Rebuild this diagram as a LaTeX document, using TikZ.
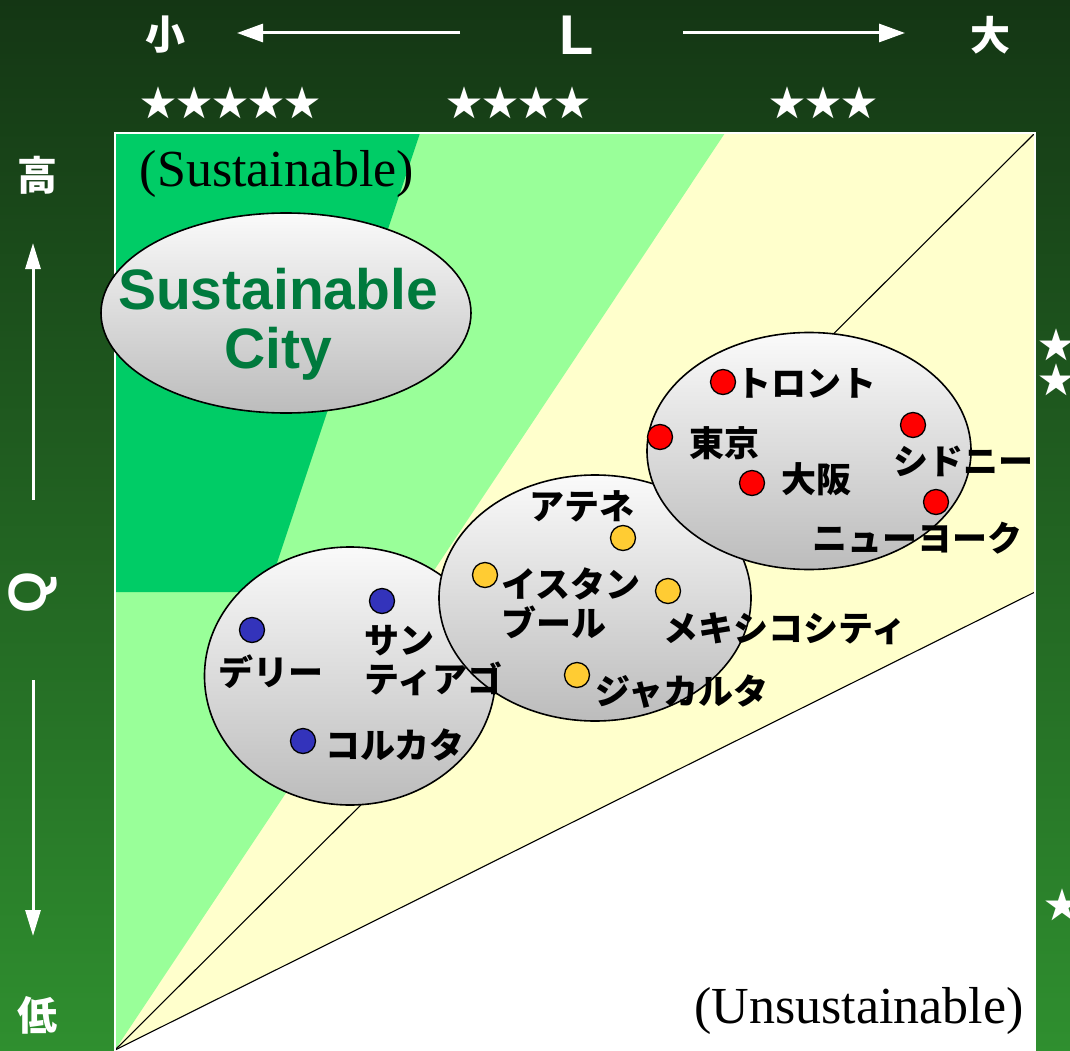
\documentclass[tikz,border=0pt]{standalone}
\usepackage{fontspec}
\usetikzlibrary{shapes.geometric,arrows.meta}
\setmainfont{Liberation Serif}
\newfontfamily\jp{Noto Sans CJK JP}
\newfontfamily\arialf{Liberation Sans}
\definecolor{bgtop}{RGB}{20,54,20}
\definecolor{bgbot}{RGB}{47,143,47}
\definecolor{dgreen}{RGB}{0,204,102}
\definecolor{lgreen}{RGB}{153,255,153}
\definecolor{yel}{RGB}{255,255,204}
\definecolor{scgreen}{RGB}{0,122,61}
\definecolor{dotred}{RGB}{255,0,0}
\definecolor{dotyel}{RGB}{255,204,51}
\definecolor{dotblue}{RGB}{51,51,187}
\definecolor{elltop}{RGB}{250,250,250}
\definecolor{ellbot}{RGB}{188,188,188}
\tikzset{
  lbl/.style={font=\jp\bfseries\fontsize{35}{39}\selectfont, inner sep=0pt, align=left, text=black},
  citydot/.style={circle, draw=black, line width=1.3pt, minimum size=25pt, inner sep=0pt},
  cityell/.style={ellipse, draw=black, line width=1.6pt, top color=elltop, bottom color=ellbot, inner sep=0pt},
  wjp/.style={font=\jp\bfseries\fontsize{40}{40}\selectfont, text=white, inner sep=0pt},
  wstar/.style={font=\jp\fontsize{36}{36}\selectfont, text=white, inner sep=0pt},
  axarrow/.style={draw=white, line width=3pt, -{Triangle[length=26pt,width=18pt]}},
  zone/.style={draw=black, line width=1.1pt},
  serif/.style={font=\fontsize{52}{52}\selectfont, inner sep=0pt, text=black}
}
\begin{document}
\begin{tikzpicture}[x=1pt,y=-1pt]
\useasboundingbox (0,0) rectangle (1070,1051);
\clip (0,0) rectangle (1070,1051);
\shade[top color=bgtop, bottom color=bgbot] (0,0) rectangle (1070,1051);

% zones
\fill[yel] (115,133) rectangle (1035,1051);
\fill[white] (115,1050) -- (1035,592) -- (1035,1051) -- (115,1051) -- cycle;
\fill[lgreen] (115,133) -- (725,133) -- (115,1050) -- cycle;
\fill[dgreen] (115,133) -- (420,133) -- (267.3,592) -- (115,592) -- cycle;
\coordinate (origin) at (115,1050);
\coordinate (topright) at (1035,133);
\coordinate (rightmid) at (1035,592);
\draw[zone] (origin) -- (topright);
\draw[zone] (origin) -- (rightmid);
\draw[white, line width=2pt] (115,133) rectangle (1035,1052);

\node[serif] (sust) at (277,174) {(Sustainable)};
\node[serif] (unsust) at (859,1011) {(Unsustainable)};

% top axis
\node[wjp] (small) at (165,35) {小};
\node[wjp] (large) at (990,35) {大};
\node[font=\arialf\bfseries\fontsize{56}{56}\selectfont, text=white, inner sep=0pt] (L) at (577,35) {L};
\coordinate (la0) at (460,33); \coordinate (la1) at (237,33);
\coordinate (ra0) at (683,33); \coordinate (ra1) at (905,33);
\draw[axarrow] (la0) -- (la1);
\draw[axarrow] (ra0) -- (ra1);
\node[wstar] (s5) at (230,103) {★★★★★};
\node[wstar] (s4) at (518,103) {★★★★};
\node[wstar] (s3) at (823,103) {★★★};

% left axis
\node[wjp] (high) at (37,175) {高};
\node[wjp] (low) at (37,1015) {低};
\node[font=\arialf\bfseries\fontsize{54}{54}\selectfont, text=white, inner sep=0pt, rotate=90] (Q) at (33,592) {Q};
\coordinate (ua0) at (33,500); \coordinate (ua1) at (33,243);
\coordinate (da0) at (33,680); \coordinate (da1) at (33,936);
\draw[axarrow, -{Triangle[length=26pt,width=15pt]}] (ua0) -- (ua1);
\draw[axarrow, -{Triangle[length=26pt,width=15pt]}] (da0) -- (da1);

% right edge stars (cut by the picture edge, as in the reference)
\node[wstar] (rs1) at (1056,345) {★};
\node[wstar] (rs2) at (1056,380) {★};
\node[wstar] (rs3) at (1062,905) {★};

% ellipses
\node[cityell, minimum width=370pt, minimum height=200pt] (scity) at (286,313) {};
\node[font=\arialf\bfseries\fontsize{57}{59}\selectfont, text=scgreen, align=center, inner sep=0pt, anchor=base] (sclabel) at (278,368) {Sustainable\\City};
\node[cityell, minimum width=291pt, minimum height=258pt] (blueg) at (350,676) {};
\node[cityell, minimum width=312pt, minimum height=246pt] (yelg) at (595,598) {};
\node[cityell, minimum width=324pt, minimum height=237pt] (redg) at (809,451) {};

% red group
\node[citydot, fill=dotred] (toronto) at (723,382) {};
\node[citydot, fill=dotred] (tokyo) at (660,437) {};
\node[citydot, fill=dotred] (osaka) at (752,483) {};
\node[citydot, fill=dotred] (sydney) at (913,425) {};
\node[citydot, fill=dotred] (newyork) at (936,502) {};
\node[lbl] (ltoronto) at (806,383) {トロント};
\node[lbl] (ltokyo) at (724,443) {東京};
\node[lbl] (losaka) at (816,479) {大阪};
\node[lbl] (lsydney) at (963,461) {シドニー};
\node[lbl] (lnewyork) at (917,538) {ニューヨーク};

% yellow group
\node[citydot, fill=dotyel] (athens) at (623,538) {};
\node[citydot, fill=dotyel] (istanbul) at (485,575) {};
\node[citydot, fill=dotyel] (mexico) at (668,591) {};
\node[citydot, fill=dotyel] (jakarta) at (577,675) {};
\node[lbl] (lathens) at (582,506) {アテネ};
\node[lbl, anchor=west] (listanbul) at (501,603) {イスタン\\ブール};
\node[lbl] (lmexico) at (785,629) {メキシコシティ};
\node[lbl] (ljakarta) at (682,692) {ジャカルタ};

% blue group
\node[citydot, fill=dotblue] (delhi) at (252,630) {};
\node[citydot, fill=dotblue] (santiago) at (382,601) {};
\node[citydot, fill=dotblue] (kolkata) at (303,741) {};
\node[lbl] (ldelhi) at (271,672) {デリー};
\node[lbl, anchor=west] (lsantiago) at (364,661) {サン\\ティアゴ};
\node[lbl] (lkolkata) at (395,745) {コルカタ};
\end{tikzpicture}
\end{document}
